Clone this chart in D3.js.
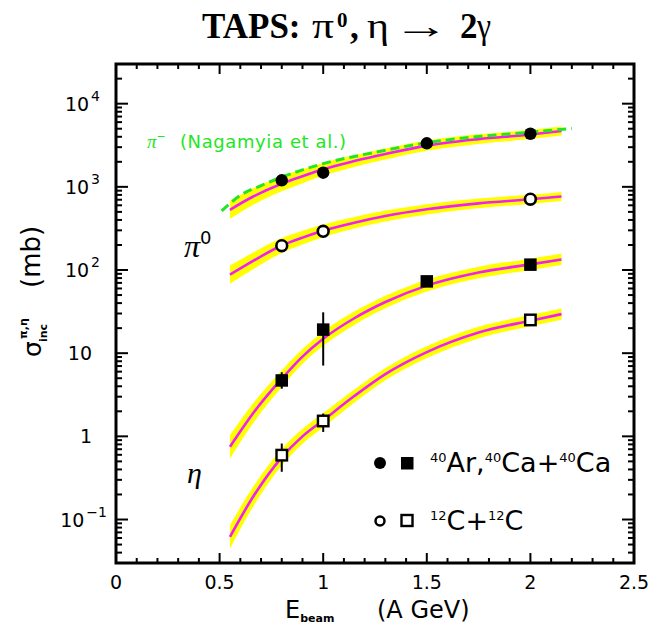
<!DOCTYPE html>
<html>
<head>
<meta charset="utf-8">
<script src="https://cdn.jsdelivr.net/npm/d3@7"></script>
<style>
  html, body { margin: 0; padding: 0; background: #fff; }
  svg { display: block; }
</style>
</head>
<body>
<svg id="chart" width="652" height="632"></svg>
<script>
// Inclusive pi0 and eta cross sections measured with TAPS

// Axis ticks and labels
const xTicks = [0, 0.5, 1, 1.5, 2, 2.5];
const xTickLabels = ["0", "0.5", "1", "1.5", "2", "2.5"];
const yTicks = [1e4, 1e3, 1e2, 10, 1, 0.1];
const yTickBase = ["10", "10", "10", "10", "1", "10"];
const yTickExp = ["4", "3", "2", "", "", "\u22121"];

// Data points: beam energy (A GeV) and cross section (mb)
const pi0CaE = [0.8, 1.0, 1.5, 2.0];
const pi0CaVal = [1200, 1480, 3340, 4350];
const pi0CE = [0.8, 1.0, 2.0];
const pi0CVal = [196, 292, 710];
const etaCaE = [0.8, 1.0, 1.5, 2.0];
const etaCaVal = [4.7, 19.2, 73, 116];
const etaCaLo = [3.74, 7.1, null, null];
const etaCaHi = [5.9, 31, null, null];
const etaCE = [0.8, 1.0, 2.0];
const etaCVal = [0.594, 1.53, 25.1];
const etaCLo = [0.375, 1.13, null];
const etaCHi = [0.82, 1.88, null];

// Fitted excitation functions with their uncertainty bands (half width in decades)
const fitE = [0.55, 0.66, 0.8, 0.9, 1.0, 1.15, 1.3, 1.5, 1.75, 2.0, 2.15];
const fitPi0Ca = [530, 760, 1090, 1340, 1625, 2040, 2480, 3130, 3750, 4260, 4700];
const fitPi0C = [88, 128, 197, 245, 296, 370, 445, 537, 633, 708, 765];
const fitEtaCa = [0.75, 1.87, 4.93, 9.1, 14.9, 26.3, 41.2, 64.9, 93.3, 117, 134];
const fitEtaC = [0.062, 0.185, 0.56, 1.0, 1.56, 3.05, 5.6, 10.3, 17.7, 24.6, 29.5];
const bandPi = [0.11, 0.1, 0.09, 0.083, 0.077, 0.07, 0.066, 0.062, 0.058, 0.055, 0.055];
const bandEta = [0.14, 0.12, 0.1, 0.09, 0.085, 0.08, 0.075, 0.072, 0.07, 0.068, 0.068];

// pi- cross section (Nagamiya et al.)
const nagE = [0.51, 0.6, 0.7, 0.8, 1.0, 1.25, 1.5, 1.75, 2.0, 2.2];
const nagVal = [514, 790, 1037, 1310, 1900, 2600, 3390, 4030, 4540, 5040];

const svg = d3.select("#chart");
const frameL = 116, frameR = 634, frameT = 64, frameB = 563;

const x = d3.scaleLinear().domain([0, 2.5]).range([frameL, frameR]);
const y = d3.scaleLog().domain([0.03, 30000]).range([frameB, frameT]);

const sans = "DejaVu Sans, Verdana, sans-serif";
const serif = "Liberation Serif, Times New Roman, serif";

// Bands and fit curves
const fits = [
  { v: fitPi0Ca, b: bandPi },
  { v: fitPi0C, b: bandPi },
  { v: fitEtaCa, b: bandEta },
  { v: fitEtaC, b: bandEta }
];
const area = d3.area()
  .x(d => x(d.E))
  .y0(d => y(d.v / Math.pow(10, d.b)))
  .y1(d => y(d.v * Math.pow(10, d.b)))
  .curve(d3.curveMonotoneX);
const line = d3.line().x(d => x(d.E)).y(d => y(d.v)).curve(d3.curveMonotoneX);

fits.forEach(f => {
  const pts = fitE.map((E, i) => ({ E, v: f.v[i], b: f.b[i] }));
  svg.append("path").attr("d", area(pts)).attr("fill", "#ffff00");
});
fits.forEach(f => {
  const pts = fitE.map((E, i) => ({ E, v: f.v[i] }));
  svg.append("path").attr("d", line(pts)).attr("fill", "none")
    .attr("stroke", "#f020f0").attr("stroke-width", 2.6);
});

// Nagamiya pi- curve
svg.append("path")
  .attr("d", line(nagE.map((E, i) => ({ E, v: nagVal[i] }))))
  .attr("fill", "none").attr("stroke", "#22e622").attr("stroke-width", 3)
  .attr("stroke-dasharray", "9,5");

// Error bars
function errBars(E, lo, hi) {
  E.forEach((e, i) => {
    if (lo[i] == null) return;
    svg.append("line").attr("x1", x(e)).attr("x2", x(e))
      .attr("y1", y(lo[i])).attr("y2", y(hi[i]))
      .attr("stroke", "#000").attr("stroke-width", 2);
  });
}
errBars(etaCaE, etaCaLo, etaCaHi);
errBars(etaCE, etaCLo, etaCHi);

// Markers
function circles(E, V, open, r) {
  svg.append("g").selectAll("circle").data(E).join("circle")
    .attr("cx", d => x(d)).attr("cy", (d, i) => y(V[i])).attr("r", r)
    .attr("fill", open ? "#fff" : "#000")
    .attr("stroke", "#000").attr("stroke-width", open ? 2.6 : 0);
}
function squares(E, V, open, s) {
  svg.append("g").selectAll("rect").data(E).join("rect")
    .attr("x", d => x(d) - s / 2).attr("y", (d, i) => y(V[i]) - s / 2)
    .attr("width", s).attr("height", s)
    .attr("fill", open ? "#fff" : "#000")
    .attr("stroke", "#000").attr("stroke-width", open ? 2.4 : 0);
}
circles(pi0CaE, pi0CaVal, false, 6.2);
circles(pi0CE, pi0CVal, true, 5.4);
squares(etaCaE, etaCaVal, false, 12.5);
squares(etaCE, etaCVal, true, 10.5);

// Frame with inward ticks on all four sides
const ax = svg.append("g").attr("stroke", "#000");
ax.append("rect").attr("x", frameL).attr("y", frameT)
  .attr("width", frameR - frameL).attr("height", frameB - frameT)
  .attr("fill", "none").attr("stroke-width", 3);

const xMinor = d3.range(0, 26).map(i => i / 10);
xMinor.forEach(v => {
  const major = Math.abs(v * 2 - Math.round(v * 2)) < 1e-6;
  const len = major ? 10 : 5;
  ax.append("line").attr("x1", x(v)).attr("x2", x(v))
    .attr("y1", frameB).attr("y2", frameB - len).attr("stroke-width", 2);
  ax.append("line").attr("x1", x(v)).attr("x2", x(v))
    .attr("y1", frameT).attr("y2", frameT + len).attr("stroke-width", 2);
});
const yAll = y.ticks(60).filter(v => v >= 0.03 && v <= 30000);
yAll.forEach(v => {
  const m = v / Math.pow(10, Math.floor(Math.log10(v) + 1e-9));
  const major = Math.abs(m - 1) < 1e-6;
  const len = major ? 12 : 6;
  ax.append("line").attr("x1", frameL).attr("x2", frameL + len)
    .attr("y1", y(v)).attr("y2", y(v)).attr("stroke-width", 2);
  ax.append("line").attr("x1", frameR).attr("x2", frameR - len)
    .attr("y1", y(v)).attr("y2", y(v)).attr("stroke-width", 2);
});

// Tick labels
xTicks.forEach((v, i) => {
  svg.append("text").attr("x", x(v)).attr("y", 589)
    .attr("text-anchor", "middle").attr("font-family", sans).attr("font-size", 19)
    .text(xTickLabels[i]);
});
yTicks.forEach((v, i) => {
  const t = svg.append("text").attr("y", y(v) + 7)
    .attr("font-family", sans).attr("font-size", 19).attr("text-anchor", "end");
  const neg = yTickExp[i].startsWith("\u2212");
  t.attr("x", yTickExp[i] ? (neg ? 107 : 100) : 92);
  t.append("tspan").text(yTickBase[i]);
  if (yTickExp[i]) {
    t.append("tspan").attr("dy", -10).attr("dx", 2).attr("font-size", 14).text(yTickExp[i]);
  }
});

// Title, set piece by piece
const tg = svg.append("g").attr("font-family", serif).attr("font-size", 35);
function tpiece(xp, yp, str, w, opts) {
  const t = tg.append("text").attr("x", xp).attr("y", yp).text(str);
  if (w) t.attr("textLength", w).attr("lengthAdjust", "spacingAndGlyphs");
  Object.entries(opts || {}).forEach(([k, v]) => t.attr(k, v));
  return t;
}
tpiece(202, 38, "TAPS:", 0, { "font-weight": "bold" });
tpiece(312, 38, "\u03c0", 22);
tpiece(337, 27, "0", 0, { "font-size": 21, "font-weight": "bold" });
tpiece(350, 38, ",", 0, { "font-weight": "bold" });
tpiece(367, 38, "\u03b7", 22);
tg.append("text").attr("transform", "translate(393,38) scale(1.6,1)").text("\u2192");
tpiece(460, 38, "2", 0, { "font-weight": "bold" });
tpiece(477, 38, "\u03b3", 14);

// Axis titles
const xl = svg.append("text").attr("x", 285).attr("y", 618)
  .attr("font-family", sans).attr("font-size", 24);
xl.append("tspan").text("E");
xl.append("tspan").attr("dy", 4).attr("font-size", 11).attr("font-weight", "bold").text("beam");
svg.append("text").attr("x", 377).attr("y", 618)
  .attr("font-family", sans).attr("font-size", 24).text("(A GeV)");

const yl = svg.append("g").attr("transform", "translate(41,357) rotate(-90)")
  .attr("font-family", sans);
yl.append("text").attr("x", 0).attr("y", 0).attr("font-size", 25).text("\u03c3");
yl.append("text").attr("x", 15).attr("y", 6).attr("font-size", 11).attr("font-weight", "bold").text("inc");
yl.append("text").attr("x", 18).attr("y", -14).attr("font-size", 11).attr("font-weight", "bold").text("\u03c0,\u03b7");
yl.append("text").attr("x", 69).attr("y", -1).attr("font-size", 26).text("(mb)");

// Curve labels
const lp = svg.append("text").attr("x", 184).attr("y", 257)
  .attr("font-family", serif).attr("font-size", 32).attr("font-style", "italic");
lp.append("tspan").text("\u03c0");
lp.append("tspan").attr("dy", -13).attr("font-size", 18).attr("font-family", sans)
  .attr("font-style", "normal").text("0");
svg.append("text").attr("x", 187).attr("y", 483)
  .attr("font-family", serif).attr("font-size", 30).attr("font-style", "italic").text("\u03b7");

const gl = svg.append("text").attr("x", 147).attr("y", 148)
  .attr("font-family", sans).attr("font-size", 18).attr("fill", "#22e622");
gl.append("tspan").attr("font-family", serif).attr("font-style", "italic").attr("font-size", 19).text("\u03c0");
gl.append("tspan").attr("dy", -8).attr("font-size", 11).text("\u2212");
gl.append("tspan").attr("dy", 8).attr("x", 180).attr("letter-spacing", 0.6).text("(Nagamyia et al.)");

// Legend
const lg = svg.append("g");
lg.append("circle").attr("cx", 380).attr("cy", 463).attr("r", 6).attr("fill", "#000");
lg.append("rect").attr("x", 401).attr("y", 457).attr("width", 12.5).attr("height", 12.5).attr("fill", "#000");
lg.append("circle").attr("cx", 380).attr("cy", 521).attr("r", 4.5).attr("fill", "#fff")
  .attr("stroke", "#000").attr("stroke-width", 2.5);
lg.append("rect").attr("x", 401.5).attr("y", 515).attr("width", 11).attr("height", 11).attr("fill", "#fff")
  .attr("stroke", "#000").attr("stroke-width", 2.4);

function isoText(xp, yp, parts) {
  const t = lg.append("text").attr("x", xp).attr("y", yp)
    .attr("font-family", sans).attr("font-size", 27);
  let up = false;
  parts.forEach(p => {
    const sup = p.startsWith("^");
    const s = t.append("tspan").text(sup ? p.slice(1) : p);
    if (sup && !up) { s.attr("dy", -10).attr("font-size", 13); up = true; }
    else if (sup) { s.attr("font-size", 13); }
    else if (up) { s.attr("dy", 10); up = false; }
  });
}
isoText(430, 472, ["^40", "Ar,", "^40", "Ca+", "^40", "Ca"]);
isoText(430, 530, ["^12", "C+", "^12", "C"]);
</script>
</body>
</html>
